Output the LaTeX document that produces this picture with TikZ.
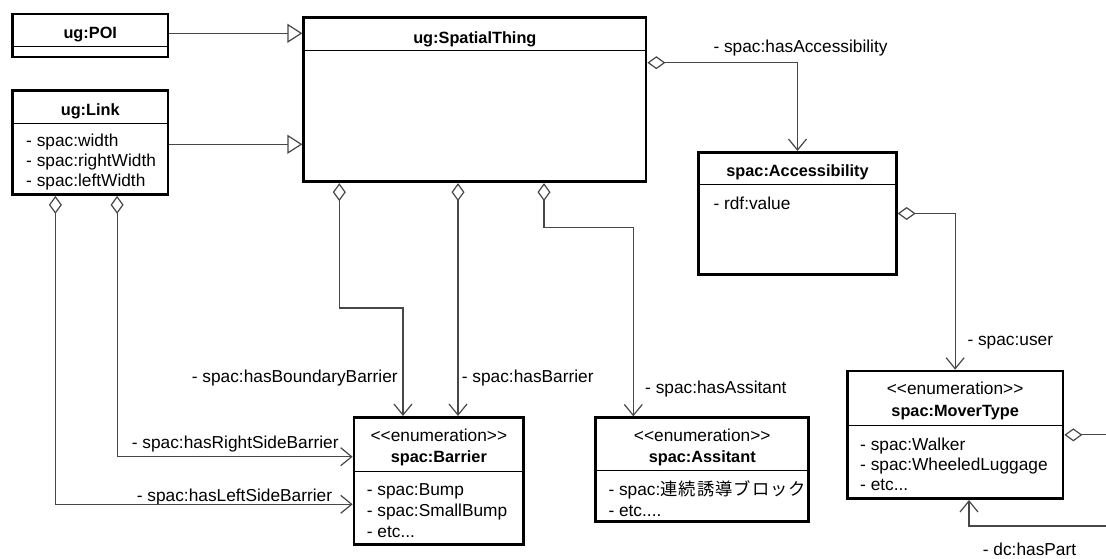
\documentclass[tikz,border=0pt]{standalone}
\usepackage{fontspec}
\setmainfont{Liberation Sans}
\newfontfamily\cjk[LetterSpace=6]{Noto Sans CJK JP}
\usetikzlibrary{arrows.meta}

\begin{document}
\begin{tikzpicture}[x=1pt,y=-1pt,
  box/.style={draw, line width=2.7pt, inner sep=0pt},
  sep/.style={line width=1pt},
  title/.style={font=\fontsize{16.3}{19}\selectfont\bfseries, inner sep=0pt, anchor=base},
  stereo/.style={font=\fontsize{17.3}{20}\selectfont, inner sep=0pt, anchor=base},
  attr/.style={font=\fontsize{17.3}{20}\selectfont, inner sep=0pt, anchor=base west},
  conn/.style={draw=black!72, line width=1.2pt},
  gen/.style={-{Triangle[length=15pt,width=19pt,fill=white]}},
  agg/.style={{Diamond[length=18pt,width=13pt,fill=white]}-{Straight Barb[length=11pt,width=18pt]}},
  aggonly/.style={{Diamond[length=18pt,width=13pt,fill=white]}-},
  assoc/.style={-{Straight Barb[length=11pt,width=18pt]}}
]
\path[fill=white] (0,0) rectangle (1106,558);
\useasboundingbox (0,0) rectangle (1106,558);

% class boxes
\node[box, minimum width=155.5pt, minimum height=43pt]    (poi)  at (90.25,35.5)   {};
\node[box, minimum width=155.5pt, minimum height=103.8pt] (link) at (90.25,142.6)  {};
\node[box, minimum width=342.3pt, minimum height=164.5pt] (st)   at (474.85,99.55) {};
\node[box, minimum width=197.6pt, minimum height=122.4pt] (acc)  at (797.5,213.5)  {};
\node[box, minimum width=169.7pt, minimum height=127.4pt] (bar)  at (438.85,481)   {};
\node[box, minimum width=212.9pt, minimum height=103.6pt] (asst) at (702.25,469.5) {};
\node[box, minimum width=215.7pt, minimum height=127.7pt] (mov)  at (955.15,434.85) {};

% compartment separators
\draw[sep] (12.5,46) -- (168,46);
\draw[sep] (12.5,123.3) -- (168,123.3);
\draw[sep] (303.7,50) -- (646,50);
\draw[sep] (698.7,184.3) -- (896.3,184.3);
\draw[sep] (354,471.5) -- (523.7,471.5);
\draw[sep] (595.8,470.5) -- (808.7,470.5);
\draw[sep] (847.3,425) -- (1063,425);

% class names and attributes
\node[title] (poiT)  at (90.25,38)   {ug:POI};
\node[title] (linkT) at (90.25,115)  {ug:Link};
\node[attr]  (linkA) at (26,146.7)   {- spac:width};
\node[attr]  (linkB) at (26,166.7)   {- spac:rightWidth};
\node[attr]  (linkC) at (26,186.7)   {- spac:leftWidth};
\node[title] (stT)   at (474.85,43.3) {ug:SpatialThing};
\node[title] (accT)  at (797.5,176.5) {spac:Accessibility};
\node[attr]  (accA)  at (713.3,209.3) {- rdf:value};

\node[stereo] (barS) at (438.85,441)   {<{}<enumeration>{}>};
\node[title]  (barT) at (438.85,462.7) {spac:Barrier};
\node[attr]   (barA) at (366.7,495)    {- spac:Bump};
\node[attr]   (barB) at (366.7,516.7)  {- spac:SmallBump};
\node[attr]   (barC) at (366.7,537.3)  {- etc...};

\node[stereo] (asS) at (702.25,441.7) {<{}<enumeration>{}>};
\node[title]  (asT) at (702.25,462.7) {spac:Assitant};
\node[attr]   (asA) at (608.3,495)    {- spac:{\cjk 連続誘導ブロック}};
\node[attr]   (asB) at (608.3,516)    {- etc....};

\node[stereo] (movS) at (955.15,394)   {<{}<enumeration>{}>};
\node[title]  (movT) at (955.15,416.7) {spac:MoverType};
\node[attr]   (movA) at (860,450)      {- spac:Walker};
\node[attr]   (movB) at (860,470)      {- spac:WheeledLuggage};
\node[attr]   (movC) at (860,490.7)    {- etc...};

% role labels
\node[attr] (lAcc)   at (713.3,52.7)  {- spac:hasAccessibility};
\node[attr] (lBound) at (191.7,382.7) {- spac:hasBoundaryBarrier};
\node[attr] (lBar)   at (461.7,382.7) {- spac:hasBarrier};
\node[attr] (lAss)   at (645,393.3)   {- spac:hasAssitant};
\node[attr] (lRight) at (131.7,448.3) {- spac:hasRightSideBarrier};
\node[attr] (lLeft)  at (136.7,501.7) {- spac:hasLeftSideBarrier};
\node[attr] (lUser)  at (967.3,345)   {- spac:user};
\node[attr] (lPart)  at (982.7,555.3) {- dc:hasPart};

% generalizations
\coordinate (poiR) at ([yshift=2.2pt]poi.east);
\draw[conn, gen] (poiR) -- (poiR -| st.west);
\coordinate (linkR) at ([yshift=-1.7pt]link.east);
\draw[conn, gen] (linkR) -- (linkR -| st.west);

% aggregations
\draw[conn, agg] ([yshift=36.85pt]st.east) -| (acc.north);
\draw[conn, agg] (acc.east) -| (mov.north);

\coordinate (edgeR) at (1106,0);
\draw[conn, aggonly] (mov.east) -- (mov.east -| edgeR);
\coordinate (hpIn) at (1106,526);
\coordinate (movB) at ([xshift=13.85pt]mov.south);
\draw[conn, assoc] (hpIn) -| (movB);

\coordinate (stB1) at ([xshift=-135.55pt]st.south);
\coordinate (barN1) at ([xshift=-35.85pt]bar.north);
\draw[conn, agg] (stB1) -- ++(0,124.85) -| (barN1);

\coordinate (barN2) at ([xshift=19.15pt]bar.north);
\draw[conn, agg] (barN2 |- st.south) -- (barN2);

\coordinate (stB3) at ([xshift=69.15pt]st.south);
\coordinate (asN) at ([xshift=-68.95pt]asst.north);
\draw[conn, agg] (stB3) -- ++(0,44.35) -| (asN);

\coordinate (lkB1) at ([xshift=26.85pt]link.south);
\coordinate (barW1) at ([yshift=24.3pt]bar.west);
\draw[conn, agg] (lkB1) |- (barW1);

\coordinate (lkB2) at ([xshift=-34.85pt]link.south);
\coordinate (barW2) at ([yshift=-23.3pt]bar.west);
\draw[conn, agg] (lkB2) |- (barW2);
\end{tikzpicture}
\end{document}
